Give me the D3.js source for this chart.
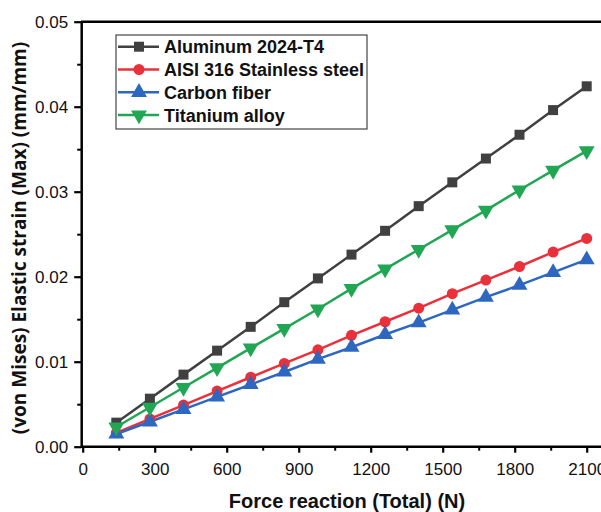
<!DOCTYPE html>
<html>
<head>
<meta charset="utf-8">
<script src="https://cdn.jsdelivr.net/npm/d3@7"></script>
<style>
  body { margin: 0; background: #fff; }
  svg { display: block; }
</style>
</head>
<body>
<div id="canvas"></div>
<script>
/* Size of drawing */
let svgWidth = 601;
let svgHeight = 512;

/* Data */
let forces = [140, 280, 420, 560, 700, 840, 980, 1120, 1260, 1400, 1540, 1680, 1820, 1960, 2100];
let seriesNames = ["Aluminum 2024-T4", "AISI 316 Stainless steel", "Carbon fiber", "Titanium alloy"];
let aluminum = [0.00283, 0.00565, 0.00848, 0.0113, 0.0141, 0.0170, 0.0198, 0.0226, 0.0254, 0.0283, 0.0311, 0.0339, 0.0367, 0.0396, 0.0424];
let stainless = [0.00163, 0.00327, 0.0049, 0.00654, 0.00817, 0.0098, 0.0114, 0.0131, 0.0147, 0.0163, 0.0180, 0.0196, 0.0212, 0.0229, 0.0245];
let carbon = [0.00150, 0.00293, 0.00439, 0.00586, 0.00732, 0.00879, 0.0103, 0.0117, 0.0132, 0.0146, 0.0161, 0.0176, 0.0190, 0.0205, 0.0220];
let titanium = [0.00232, 0.00464, 0.00696, 0.00928, 0.0116, 0.0139, 0.0162, 0.0186, 0.0209, 0.0232, 0.0255, 0.0278, 0.0302, 0.0325, 0.0348];
let xTicks = [0, 300, 600, 900, 1200, 1500, 1800, 2100];
let yTicks = [0, 0.01, 0.02, 0.03, 0.04, 0.05];

let seriesValues = [aluminum, stainless, carbon, titanium];
let colors = ["#404040", "#e8313b", "#2e67c0", "#21a653"];
let symbols = [d3.symbolSquare, d3.symbolCircle, d3.symbolTriangle, d3.symbolTriangle];

let svg = d3.select("#canvas")
    .append("svg")
    .attr("width", svgWidth)
    .attr("height", svgHeight);

let xScale = d3.scaleLinear()
    .domain([0, 2100])
    .range([82.7, 586.7]);

let yScale = d3.scaleLinear()
    .domain([0, 0.05])
    .range([446.7, 21.7]);

let axisColor = "#000";
let tickFont = "'Liberation Sans', Arial, sans-serif";

// top frame line runs off the right edge
svg.append("line")
    .attr("x1", 81).attr("x2", svgWidth + 5)
    .attr("y1", yScale(0.05)).attr("y2", yScale(0.05))
    .attr("stroke", axisColor).attr("stroke-width", 2.5);

// x axis
let xAxis = svg.append("g")
    .attr("transform", `translate(0, ${yScale(0)})`)
    .call(d3.axisBottom(xScale).tickValues(xTicks).tickFormat(d3.format("d"))
        .tickSize(6).tickPadding(10).tickSizeOuter(0));
xAxis.select(".domain").attr("stroke-width", 2.5).attr("d", `M81,0H${svgWidth + 5}`);
xAxis.selectAll(".tick line").attr("stroke-width", 2.2);
xAxis.selectAll(".tick text")
    .attr("font-family", tickFont).attr("font-size", 17).attr("fill", "#111");

// minor x ticks
svg.append("g")
    .attr("transform", `translate(0, ${yScale(0)})`)
    .call(d3.axisBottom(xScale).tickValues(d3.range(150, 2300, 300)).tickSize(4).tickFormat(""))
    .call(g => g.select(".domain").remove())
    .selectAll(".tick line").attr("stroke-width", 2);

// y axis
let yAxis = svg.append("g")
    .attr("transform", `translate(${xScale(0) - 1.5}, 0)`)
    .call(d3.axisLeft(yScale).tickValues(yTicks).tickFormat(d3.format(".2f"))
        .tickSize(7).tickPadding(6).tickSizeOuter(0));
yAxis.select(".domain").attr("stroke-width", 2.5);
yAxis.selectAll(".tick line").attr("stroke-width", 2.2);
yAxis.selectAll(".tick text")
    .attr("font-family", tickFont).attr("font-size", 17).attr("fill", "#111");

// minor y ticks
svg.append("g")
    .attr("transform", `translate(${xScale(0) - 1.5}, 0)`)
    .call(d3.axisLeft(yScale).tickValues(d3.range(0.005, 0.05, 0.01)).tickSize(4).tickFormat(""))
    .call(g => g.select(".domain").remove())
    .selectAll(".tick line").attr("stroke-width", 2);

// series lines and markers
let line = d3.line()
    .x((d, i) => xScale(forces[i]))
    .y(d => yScale(d));

seriesValues.forEach(function(vals, s) {
    svg.append("path")
        .datum(vals)
        .attr("fill", "none")
        .attr("stroke", colors[s])
        .attr("stroke-width", 2.5)
        .attr("d", line);
});

function markerPath(s) {
    let sizes = [100, 95, 110, 110];
    return d3.symbol().type(symbols[s]).size(sizes[s])();
}
function markerTransform(s, x, y) {
    // Titanium uses a down-pointing triangle
    if (s == 3) return `translate(${x}, ${y}) rotate(180)`;
    return `translate(${x}, ${y})`;
}

seriesValues.forEach(function(vals, s) {
    svg.append("g").selectAll("path")
        .data(vals)
        .enter()
        .append("path")
        .attr("d", markerPath(s))
        .attr("transform", (d, i) => markerTransform(s, xScale(forces[i]), yScale(d)))
        .attr("fill", colors[s]);
});

// legend
let legend = svg.append("g");
legend.append("rect")
    .attr("x", 116).attr("y", 35)
    .attr("width", 251).attr("height", 94)
    .attr("fill", "#fff").attr("stroke", "#444").attr("stroke-width", 1.2);

seriesNames.forEach(function(name, s) {
    let y = 46.7 + s * 22.8;
    legend.append("line")
        .attr("x1", 118).attr("x2", 159)
        .attr("y1", y).attr("y2", y)
        .attr("stroke", colors[s]).attr("stroke-width", 2.5);
    legend.append("path")
        .attr("d", markerPath(s))
        .attr("transform", markerTransform(s, 139, y))
        .attr("fill", colors[s]);
    legend.append("text")
        .attr("x", 164).attr("y", y)
        .attr("dy", "0.36em")
        .attr("font-family", tickFont)
        .attr("font-weight", "bold")
        .attr("font-size", 18)
        .attr("fill", "#111")
        .text(name);
});

// axis titles
svg.append("text")
    .attr("x", 347).attr("y", 508)
    .attr("text-anchor", "middle")
    .attr("font-family", tickFont)
    .attr("font-weight", "bold")
    .attr("font-size", 20)
    .attr("fill", "#111")
    .text("Force reaction (Total) (N)");

svg.append("text")
    .attr("transform", "translate(26, 238) rotate(-90)")
    .attr("text-anchor", "middle")
    .attr("font-family", "'Open Sans', sans-serif")
    .attr("font-weight", "bold")
    .attr("font-size", 19)
    .attr("fill", "#111")
    .text("(von Mises) Elastic strain (Max) (mm/mm)");
</script>
</body>
</html>
